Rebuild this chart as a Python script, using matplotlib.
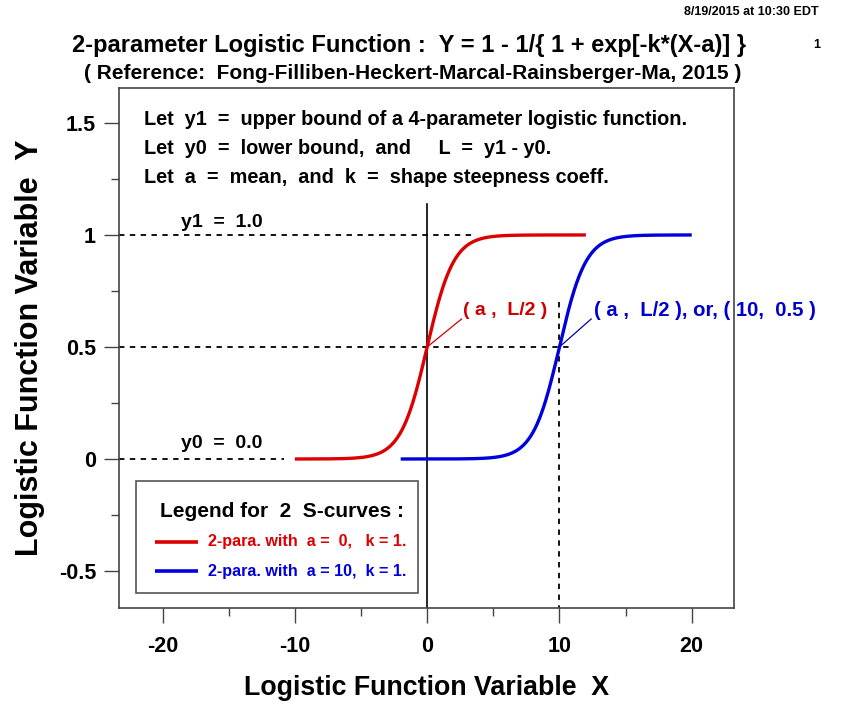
import matplotlib
matplotlib.use("Agg")
import matplotlib.pyplot as plt
from matplotlib.ticker import FixedLocator
import numpy as np

plt.rcParams['font.family'] = ['Liberation Sans', 'DejaVu Sans']
plt.rcParams['font.weight'] = 'bold'
plt.rcParams['axes.unicode_minus'] = False

# two S-curves: Y = 1 - 1/(1 + exp(-k*(X-a)))  -> plotted as rising curves
curve_a = [0, 10]
curve_k = [1, 1]
curve_xmin = [-10, -2]
curve_xmax = [12, 20]
curve_colors = ['#dd0000', '#0000dd']
legend_labels = ['2-para. with  a =  0,   k = 1.', '2-para. with  a = 10,  k = 1.']

x_major = [-20, -10, 0, 10, 20]
x_minor = [-15, -5, 5, 15]
y_major = [-0.5, 0, 0.5, 1, 1.5]
y_major_labels = ['-0.5', '0', '0.5', '1', '1.5']
y_minor = [-0.25, 0.25, 0.75, 1.25]

y_upper = 1.0
y_lower = 0.0

fig = plt.figure(figsize=(8.48, 7.04), dpi=100)
ax = fig.add_axes([0.1403, 0.1364, 0.7253, 0.7386])
ax.set_xlim(-23.3, 23.2)
ax.set_ylim(-0.665, 1.656)

for a, k, x0, x1, c in zip(curve_a, curve_k, curve_xmin, curve_xmax, curve_colors):
    xs = np.linspace(x0, x1, 400)
    ys = 1 - 1 / (1 + np.exp(k * (xs - a)))
    ax.plot(xs, ys, color=c, lw=2.4, solid_capstyle='butt', zorder=3)

# reference lines
dash = dict(color='black', lw=1.3, ls=(0, (3, 3)), zorder=2)
ax.plot([-23.3, 3.5], [y_upper, y_upper], **dash)
ax.plot([-23.3, 10.9], [0.5, 0.5], **dash)
ax.plot([-23.3, -10.8], [y_lower, y_lower], **dash)
ax.plot([curve_a[1], curve_a[1]], [0.70, -0.665], **dash)
ax.plot([curve_a[0], curve_a[0]], [1.14, -0.665], color='black', lw=1.2, zorder=2)

# explanatory text
notes = ['Let  y1  =  upper bound of a 4-parameter logistic function.',
         'Let  y0  =  lower bound,  and     L  =  y1 - y0.',
         'Let  a  =  mean,  and  k  =  shape steepness coeff.']
for i, s in enumerate(notes):
    ax.text(-21.4, 1.515 - i * 0.13, s, fontsize=14.3, va='center', ha='left')

ax.text(-18.6, 1.055, 'y1  =  1.0', fontsize=14, va='center', ha='left')
ax.text(-18.6, 0.07, 'y0  =  0.0', fontsize=14, va='center', ha='left')

# midpoint annotations
ax.plot([curve_a[0], 2.6], [0.5, 0.625], color='#cc0000', lw=0.9)
ax.text(2.7, 0.665, '( a ,  L/2 )', color='#cc0000', fontsize=14, va='center', ha='left')
ax.plot([curve_a[1], 12.4], [0.5, 0.625], color='#0000aa', lw=0.9)
ax.text(12.6, 0.665, '( a ,  L/2 ), or, ( 10,  0.5 )', color='#0000cc', fontsize=14.6,
        va='center', ha='left')

# legend box
ax.add_patch(plt.Rectangle((-22.0, -0.60), 21.3, 0.50, fill=False, ec='#555555', lw=1.2, zorder=4))
ax.text(-11.0, -0.235, 'Legend for  2  S-curves :', fontsize=15, ha='center', va='center')
for i, (c, lab) in enumerate(zip(curve_colors, legend_labels)):
    yy = -0.37 - i * 0.13
    ax.plot([-20.6, -17.3], [yy, yy], color=c, lw=2.6, solid_capstyle='butt')
    ax.text(-16.6, yy, lab, color=c, fontsize=11.6, ha='left', va='center')

# axes styling
for sp in ax.spines.values():
    sp.set_color('#444444')
    sp.set_linewidth(1.2)
ax.xaxis.set_major_locator(FixedLocator(x_major))
ax.xaxis.set_minor_locator(FixedLocator(x_minor))
ax.set_xticklabels([str(v) for v in x_major])
ax.yaxis.set_major_locator(FixedLocator(y_major))
ax.yaxis.set_minor_locator(FixedLocator(y_minor))
ax.set_yticklabels(y_major_labels)
ax.tick_params(which='major', length=10.5, width=1, color='#444444', labelsize=15.5)
ax.tick_params(which='minor', length=5.5, width=1, color='#444444')
ax.tick_params(axis='x', which='major', pad=10)
ax.tick_params(axis='y', which='major', pad=6)
ax.set_xlabel('Logistic Function Variable  X', fontsize=19.3, fontweight='bold', va='center')
ax.set_ylabel('Logistic Function Variable  Y', fontsize=22, fontweight='bold', va='center')
ax.xaxis.set_label_coords(0.5, -0.154)
ax.yaxis.set_label_coords(-0.1447, 0.5)

fig.text(0.965, 0.983, '8/19/2015 at 10:30 EDT', fontsize=9, ha='right', va='center')
fig.text(0.482, 0.936, '2-parameter Logistic Function :  Y = 1 - 1/{ 1 + exp[-k*(X-a)] }',
         fontsize=17, ha='center', va='center')
fig.text(0.967, 0.936, '1', fontsize=9, ha='right', va='center')
fig.text(0.487, 0.896, '( Reference:  Fong-Filliben-Heckert-Marcal-Rainsberger-Ma, 2015 )',
         fontsize=15, ha='center', va='center')

fig.savefig('out.png', dpi=100)
